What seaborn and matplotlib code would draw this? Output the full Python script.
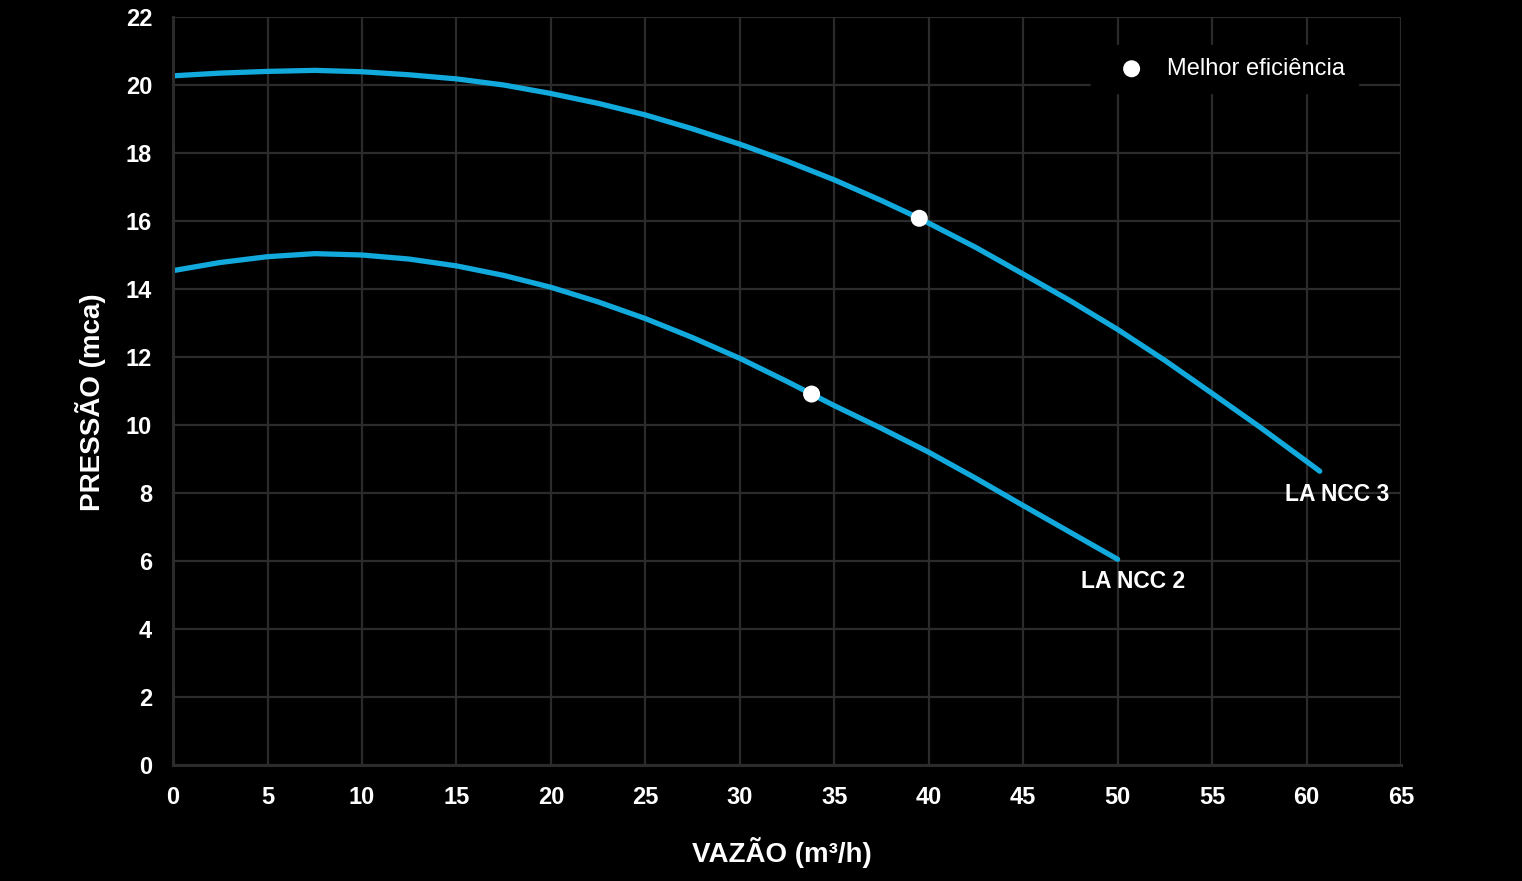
import matplotlib
matplotlib.use("Agg")

import pandas as pd
import matplotlib.pyplot as plt
from matplotlib.ticker import MultipleLocator
import seaborn as sns

# curve points (vazao m3/h, pressao mca)
ncc3_vazao = [0, 2.5, 5, 7.5, 10, 12.5, 15, 17.5, 20, 22.5, 25, 27.5, 30, 32.5,
              35, 37.5, 39.5, 42.5, 45, 47.5, 50, 52.5, 55, 57.5, 60, 60.7]
ncc3_pressao = [20.27, 20.35, 20.40, 20.43, 20.39, 20.30, 20.18, 20.00, 19.75, 19.46,
                19.12, 18.71, 18.26, 17.76, 17.21, 16.60, 16.08, 15.22, 14.44, 13.65,
                12.81, 11.90, 10.93, 9.95, 8.93, 8.64]
ncc2_vazao = [0, 2.5, 5, 7.5, 10, 12.5, 15, 17.5, 20, 22.5, 25, 27.5, 30, 32.5,
              33.8, 35, 37.5, 40, 42.5, 45, 47.5, 50]
ncc2_pressao = [14.54, 14.78, 14.95, 15.04, 15.00, 14.88, 14.68, 14.40, 14.05, 13.62,
                13.13, 12.57, 11.96, 11.28, 10.91, 10.57, 9.90, 9.20, 8.43, 7.63,
                6.84, 6.05]
best_vazao = [39.5, 33.8]
best_pressao = [16.08, 10.91]
labels = ["LA NCC 3", "LA NCC 2"]
label_pos = [(61.6, 7.95), (50.8, 5.4)]

BLUE = "#12a9dc"
GRID = "#2b2b2b"

sns.set_style("darkgrid", {
    "axes.facecolor": "black",
    "figure.facecolor": "black",
    "grid.color": GRID,
    "axes.edgecolor": GRID,
})
plt.rcParams["font.family"] = ["Liberation Sans", "DejaVu Sans"]

df = pd.concat([
    pd.DataFrame({"vazao": ncc3_vazao, "pressao": ncc3_pressao, "modelo": labels[0]}),
    pd.DataFrame({"vazao": ncc2_vazao, "pressao": ncc2_pressao, "modelo": labels[1]}),
])
best = pd.DataFrame({"vazao": best_vazao, "pressao": best_pressao})

fig = plt.figure(figsize=(15.22, 8.81), dpi=100)
ax = fig.add_axes([0.1137, 0.1317, 0.8068, 0.849])

sns.lineplot(data=df, x="vazao", y="pressao", units="modelo", estimator=None,
             color=BLUE, linewidth=3.8, sort=False, ax=ax, legend=False,
             solid_capstyle="round", solid_joinstyle="round")
sns.scatterplot(data=best, x="vazao", y="pressao", color="white", s=150,
                edgecolor="none", zorder=5, ax=ax, label="Melhor eficiência")

for lab, (x, y) in zip(labels, label_pos):
    ax.text(x, y, lab, color="white", fontsize=16.5, fontweight="bold",
            ha="center", va="center")

ax.set_xlim(0, 65)
ax.set_ylim(0, 22)
ax.xaxis.set_major_locator(MultipleLocator(5))
ax.yaxis.set_major_locator(MultipleLocator(2))
ax.xaxis.set_minor_locator(MultipleLocator(1))
ax.yaxis.set_minor_locator(MultipleLocator(1))
ax.grid(True, which="major", color=GRID, linewidth=1.6)
ax.grid(False, which="minor")

for s in ["top", "right"]:
    ax.spines[s].set_visible(False)
for s in ["left", "bottom"]:
    ax.spines[s].set_color(GRID)
    ax.spines[s].set_linewidth(2.2)

ax.tick_params(axis="both", which="major", length=0, pad=15,
               labelsize=17, labelcolor="white")
ax.tick_params(axis="both", which="minor", direction="in", length=4,
               width=1.5, color=GRID)
for t in ax.get_xticklabels() + ax.get_yticklabels():
    t.set_fontweight("bold")

ax.set_xlabel("VAZÃO (m³/h)", color="white", fontsize=20, fontweight="bold", labelpad=20)
ax.set_ylabel("PRESSÃO (mca)", color="white", fontsize=20, fontweight="bold", labelpad=14)
ax.xaxis.label.set_x(0.496)
ax.yaxis.label.set_y(0.485)

leg = ax.legend(loc="upper right", bbox_to_anchor=(0.965, 0.9626), borderaxespad=0,
                frameon=True, facecolor="black", edgecolor="black", framealpha=1,
                fontsize=17, handlelength=2.3, handletextpad=0.35, borderpad=0.55)
for t in leg.get_texts():
    t.set_color("white")
leg.get_frame().set_boxstyle("square", pad=0)

fig.savefig("out.png", dpi=100, facecolor="black")
